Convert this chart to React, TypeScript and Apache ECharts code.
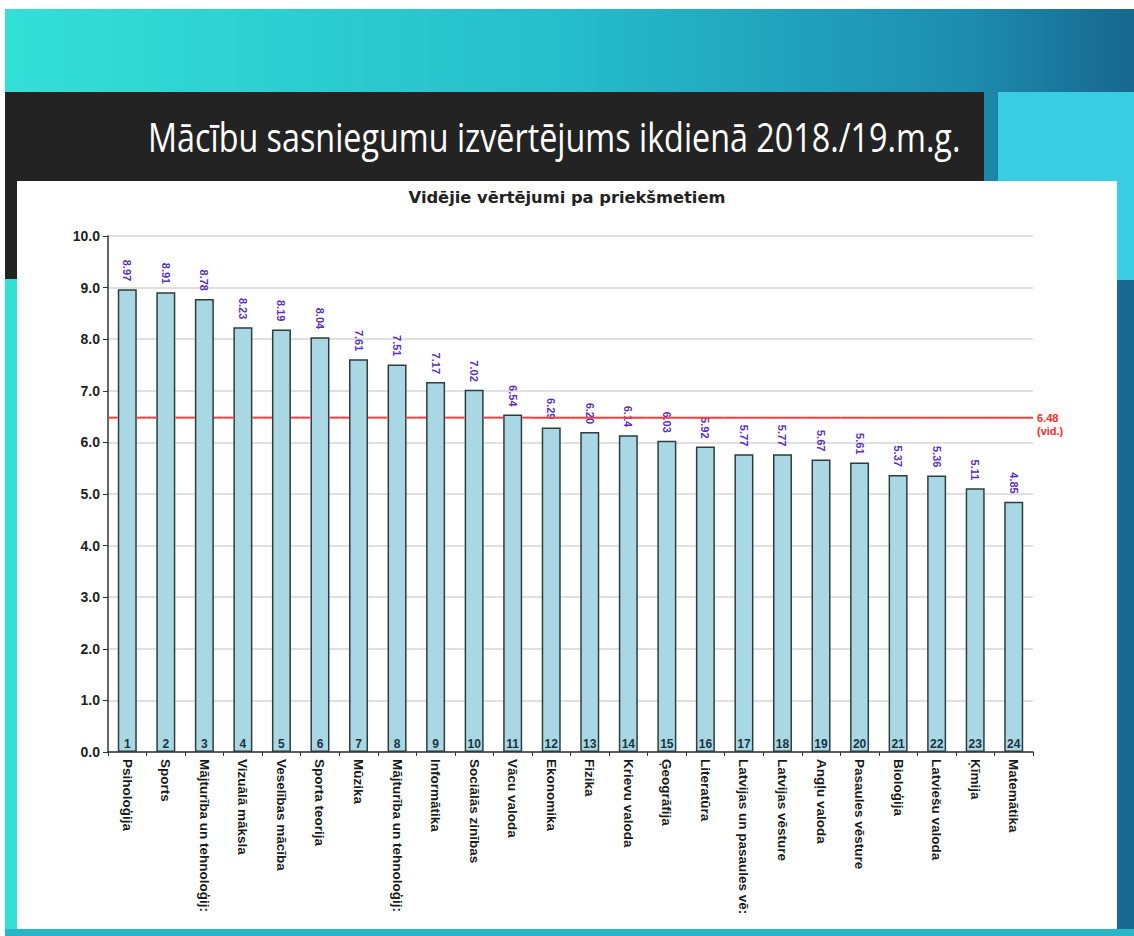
import React, { useEffect, useRef } from "react";
import * as echarts from "echarts";

const slideTitle = "Mācību sasniegumu izvērtējums ikdienā 2018./19.m.g.";
const chartTitle = "Vidējie vērtējumi pa priekšmetiem";

const categories = [
  "Psiholoģija",
  "Sports",
  "Mājturība un tehnoloģij:",
  "Vizuālā māksla",
  "Veselības mācība",
  "Sporta teorija",
  "Mūzika",
  "Mājturība un tehnoloģij:",
  "Informātika",
  "Sociālās zinības",
  "Vācu valoda",
  "Ekonomika",
  "Fizika",
  "Krievu valoda",
  "Ģeogrāfija",
  "Literatūra",
  "Latvijas un pasaules vē:",
  "Latvijas vēsture",
  "Angļu valoda",
  "Pasaules vēsture",
  "Bioloģija",
  "Latviešu valoda",
  "Ķīmija",
  "Matemātika",
];

const values = [
  8.97, 8.91, 8.78, 8.23, 8.19, 8.04, 7.61, 7.51, 7.17, 7.02, 6.54, 6.29,
  6.2, 6.14, 6.03, 5.92, 5.77, 5.77, 5.67, 5.61, 5.37, 5.36, 5.11, 4.85,
];

const average = 6.48;
const averageLabel = "(vid.)";

const BAR_WIDTH = 19;

export default function App() {
  const ref = useRef<HTMLDivElement>(null);

  useEffect(() => {
    if (!ref.current) return;
    const chart = echarts.init(ref.current, null, { renderer: "svg" });

    const titleFontSize = 41;
    const titleFamily = '"Open Sans", sans-serif';
    let scaleX = 0.78;
    try {
      const c = document.createElement("canvas");
      const ctx = c.getContext("2d");
      if (ctx) {
        ctx.font = `${titleFontSize}px ${titleFamily}`;
        const w = ctx.measureText(slideTitle).width;
        if (w > 0) scaleX = 812 / w;
      }
    } catch (e) {}

    const lastIndex = values.length - 1;

    // average line: drawn per category, passing behind bars taller than the average
    const renderAverage = (params: any, api: any) => {
      const idx = api.value(0);
      const val = api.value(1);
      const pt = api.coord([idx, average]);
      const band = api.size([1, 0])[0];
      const cx = pt[0];
      const cy = pt[1];
      const left = cx - band / 2;
      const right = cx + band / 2;
      const half = BAR_WIDTH / 2;
      const lineStyle = { stroke: "#ff3b3b", lineWidth: 2 };
      const children: any[] = [];
      if (val > average) {
        children.push({
          type: "line",
          shape: { x1: left, y1: cy, x2: cx - half, y2: cy },
          style: lineStyle,
        });
        children.push({
          type: "line",
          shape: { x1: cx + half, y1: cy, x2: right, y2: cy },
          style: lineStyle,
        });
      } else {
        children.push({
          type: "line",
          shape: { x1: left, y1: cy, x2: right, y2: cy },
          style: lineStyle,
        });
      }
      if (params.dataIndex === lastIndex) {
        children.push({
          type: "text",
          x: right + 4,
          y: cy + 7,
          style: {
            text: `${average.toFixed(2)}\n${averageLabel}`,
            fill: "#ff2a2a",
            fontSize: 11,
            fontWeight: "bold",
            fontFamily: "Liberation Sans",
            lineHeight: 13,
            align: "left",
            verticalAlign: "middle",
          },
        });
      }
      return { type: "group", children };
    };

    const option: any = {
      animation: false,
      backgroundColor: "#ffffff",
      graphic: [
        {
          type: "rect",
          z: -10,
          silent: true,
          shape: { x: 5, y: 9, width: 1129, height: 927 },
          style: {
            fill: new echarts.graphic.LinearGradient(0, 0, 1, 0, [
              { offset: 0, color: "#33e0d6" },
              { offset: 0.5, color: "#25bdcb" },
              { offset: 0.85, color: "#1d8db0" },
              { offset: 1, color: "#17678e" },
            ]),
          },
        },
        {
          type: "rect",
          z: -9,
          silent: true,
          shape: { x: 998, y: 92, width: 136, height: 188 },
          style: { fill: "#39cde3" },
        },
        {
          type: "rect",
          z: -9,
          silent: true,
          shape: { x: 5, y: 92, width: 979, height: 187 },
          style: { fill: "#232323" },
        },
        {
          type: "rect",
          z: -8,
          silent: true,
          shape: { x: 17, y: 181, width: 1100, height: 748 },
          style: { fill: "#ffffff" },
        },
        {
          type: "rect",
          z: -9,
          silent: true,
          shape: { x: 5, y: 929, width: 1129, height: 7 },
          style: { fill: "#29b6c9" },
        },
        {
          type: "text",
          z: -7,
          x: 148,
          y: 136,
          scaleX: scaleX,
          silent: true,
          style: {
            text: slideTitle,
            fill: "#ffffff",
            fontSize: titleFontSize,
            fontFamily: titleFamily,
            verticalAlign: "middle",
            align: "left",
          },
        },
      ],
      title: {
        text: chartTitle,
        left: "center",
        top: 184,
        textStyle: {
          fontFamily: "DejaVu Sans",
          fontWeight: "bold",
          fontSize: 16.3,
          color: "#222222",
        },
      },
      grid: { left: 108, right: 101, top: 236, bottom: 184 },
      xAxis: {
        type: "category",
        data: categories,
        axisLine: { lineStyle: { color: "#333333", width: 1.5 } },
        axisTick: { show: true, length: 4, lineStyle: { color: "#333333" } },
        axisLabel: {
          rotate: -90,
          interval: 0,
          margin: 7,
          fontFamily: "Liberation Sans",
          fontWeight: "bold",
          fontSize: 13.5,
          color: "#1a1a1a",
        },
      },
      yAxis: {
        type: "value",
        min: 0,
        max: 10,
        interval: 1,
        axisLine: { show: true, lineStyle: { color: "#333333", width: 1.5 } },
        axisTick: { show: true, length: 5, lineStyle: { color: "#333333" } },
        axisLabel: {
          formatter: (v: number) => v.toFixed(1),
          fontFamily: "Liberation Sans",
          fontWeight: "bold",
          fontSize: 14,
          color: "#222222",
          margin: 8,
        },
        splitLine: { lineStyle: { color: "#d6d6d6", width: 1.5 } },
      },
      series: [
        {
          type: "bar",
          data: values,
          barWidth: BAR_WIDTH,
          z: 2,
          itemStyle: {
            color: "#a9d8e4",
            borderColor: "#2e3d3d",
            borderWidth: 1.5,
          },
          label: {
            show: true,
            position: "top",
            rotate: -90,
            align: "right",
            verticalAlign: "middle",
            distance: 8,
            formatter: (p: any) => Number(p.value).toFixed(2),
            color: "#5a2fc0",
            fontWeight: "bold",
            fontSize: 11,
            fontFamily: "Liberation Sans",
          },
        },
        {
          type: "bar",
          data: values,
          barWidth: BAR_WIDTH,
          barGap: "-100%",
          z: 3,
          silent: true,
          itemStyle: { color: "transparent", borderWidth: 0 },
          label: {
            show: true,
            position: "insideBottom",
            distance: 2,
            formatter: (p: any) => String(p.dataIndex + 1),
            color: "#1b3440",
            fontWeight: "bold",
            fontSize: 12,
            fontFamily: "Liberation Sans",
          },
        },
        {
          type: "custom",
          data: values.map((v, i) => [i, v]),
          encode: { x: 0, y: 1 },
          clip: false,
          silent: true,
          z: 4,
          renderItem: renderAverage,
        },
      ],
    };

    chart.setOption(option);
    return () => chart.dispose();
  }, []);

  return (
    <div
      ref={ref}
      style={{ position: "absolute", left: 0, top: 0, width: 1134, height: 936 }}
    />
  );
}
